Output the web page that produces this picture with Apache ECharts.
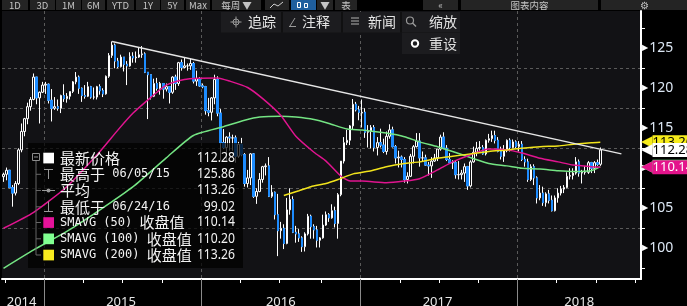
<!DOCTYPE html>
<html><head><meta charset="utf-8">
<script src="https://cdn.jsdelivr.net/npm/echarts@6/dist/echarts.min.js"></script>
<style>html,body{margin:0;padding:0;background:#000;overflow:hidden}#c{width:687px;height:306px;}</style>
</head><body><div id="c"></div>
<script>
// ---------- data (weekly candles, first week ending 2014-09-26) ----------
const startDate = '2014-09-26';
const weekCount = 212;
const open = [108.95,109.25,109.75,107.6,106.9,108.1,112.3,114.6,116.2,117.7,118.6,121.4,118.8,119.5,
120.4,120.5,118.5,117.5,117.7,117.5,119.1,118.7,119.0,119.6,120.8,121.4,120.0,119.1,119.0,120.2,118.9,118.9,120.2,119.7,119.3,121.5,124.1,125.4,123.4,122.7,123.9,123.0,122.8,124.0,123.8,123.9,124.2,124.3,122.0,121.7,119.0,120.6,120.0,120.6,119.9,120.2,119.5,121.4,120.6,123.2,122.6,122.8,122.8,123.1,120.9,121.2,
120.3,120.2,117.2,117.0,118.8,121.1,116.9,113.2,112.6,113.9,113.8,113.8,111.5,113.0,111.7,108.1,108.8,111.8,106.5,107.1,108.6,110.2,110.3,106.5,107.0,104.2,102.2,102.5,100.6,104.8,106.1,102.0,101.8,101.3,100.2,101.8,104.0,102.7,102.3,101.0,101.3,102.9,104.2,103.8,104.7,103.1,106.7,110.9,113.2,113.5,115.3,118.0,117.3,
116.9,117.0,114.5,114.6,115.1,112.6,113.2,112.9,112.1,114.0,114.8,112.7,111.3,111.4,111.1,108.6,109.0,111.5,112.7,113.4,111.3,111.3,110.4,110.3,110.9,111.3,112.4,113.9,112.5,111.1,110.7,110.7,109.2,109.2,109.4,110.2,107.8,110.8,112.0,112.5,112.6,111.8,113.5,113.7,114.1,113.5,112.1,111.5,112.2,113.5,112.6,113.3,
112.7,113.0,111.1,110.8,108.6,110.2,108.8,106.3,106.9,105.7,106.8,106.0,104.7,106.3,106.9,107.4,107.6,109.0,109.1,109.4,110.8,109.4,109.5,109.5,110.7,110.0,110.7,110.5];
const close = [109.25,109.75,107.6,106.9,108.1,112.3,114.6,116.2,117.7,118.6,121.4,118.8,119.5,120.4,
120.5,118.5,117.5,117.7,117.5,119.1,118.7,119.0,119.6,120.8,121.4,120.0,119.1,119.0,120.2,118.9,118.9,120.2,119.7,119.3,121.5,124.1,125.4,123.4,122.7,123.9,123.0,122.8,124.0,123.8,123.9,124.2,124.3,122.0,121.7,119.0,120.6,120.0,120.6,119.9,120.2,119.5,121.4,120.6,123.2,122.6,122.8,122.8,123.1,120.9,121.2,120.3,
120.2,117.2,117.0,118.8,121.1,116.9,113.2,112.6,113.9,113.8,113.8,111.5,113.0,111.7,108.1,108.8,111.8,106.5,107.1,108.6,110.2,110.3,106.5,107.0,104.2,102.2,102.5,100.6,104.8,106.1,102.0,101.8,101.3,100.2,101.8,104.0,102.7,102.3,101.0,101.3,102.9,104.2,103.8,104.7,103.1,106.7,110.9,113.2,113.5,115.3,118.0,117.3,117.0,
117.0,114.5,114.6,115.1,112.6,113.2,112.9,112.1,114.0,114.8,112.7,111.3,111.4,111.1,108.6,109.0,111.5,112.7,113.4,111.3,111.3,110.4,110.3,110.9,111.3,112.4,113.9,112.5,111.1,110.7,110.7,109.2,109.2,109.4,110.2,107.8,110.8,112.0,112.5,112.6,111.8,113.5,113.7,114.1,113.5,112.1,111.5,112.2,113.5,112.6,113.3,112.7,
113.0,111.1,110.8,108.6,110.2,108.8,106.3,106.9,105.7,106.8,106.0,104.7,106.3,106.9,107.4,107.6,109.0,109.1,109.4,110.8,109.4,109.5,109.5,110.7,110.0,110.7,110.5,112.28];
const high = [109.45,110.09,109.8,107.9,108.4,112.5,115.6,116.3,118.2,118.9,121.85,121.4,119.6,120.8,
120.8,120.6,119.9,118.9,118.6,119.2,120.5,119.4,119.6,120.9,122.03,121.6,120.1,120.4,120.8,120.3,120.1,120.3,120.5,120.0,121.6,124.4,125.86,125.6,123.8,124.2,123.9,123.4,124.5,124.5,124.6,125.1,125.28,124.5,122.0,121.7,121.2,121.3,120.8,120.6,120.6,120.2,121.5,121.7,123.3,123.6,123.8,123.1,123.7,123.3,122.2,121.4,
120.6,120.3,118.8,118.9,121.7,121.5,117.4,114.9,114.0,114.5,114.2,114.1,113.3,113.8,111.9,109.8,111.9,111.9,107.5,109.4,110.3,110.6,111.4,107.9,107.1,106.8,103.3,103.0,106.3,107.5,106.5,102.8,102.4,101.5,102.0,104.3,104.2,103.0,102.8,101.4,104.2,104.6,104.4,105.5,105.2,106.9,110.9,113.9,114.8,115.4,118.66,118.3,117.8,
118.6,117.5,115.4,115.4,115.4,113.9,114.95,113.7,114.6,115.5,115.2,112.9,112.2,111.6,111.4,109.5,111.8,112.9,114.4,114.4,112.1,111.7,110.8,111.4,111.8,112.4,114.2,114.5,112.9,111.9,111.0,110.9,110.9,109.8,110.6,110.3,111.0,112.7,113.3,113.4,112.9,113.6,114.3,114.7,114.7,113.9,112.7,112.9,113.6,113.75,113.6,113.5,
113.4,113.4,111.5,111.2,110.5,110.5,109.0,107.9,107.7,107.0,107.3,106.6,106.6,107.5,107.8,107.9,109.5,110.0,110.0,111.4,111.1,109.8,110.3,110.9,110.8,110.9,111.1,112.6];
const low = [108.3,108.5,107.5,105.2,106.6,107.9,112.0,114.0,115.5,117.2,118.5,118.0,115.6,119.4,
119.3,118.1,115.85,117.3,117.2,116.9,118.3,118.2,118.6,119.4,120.5,119.3,118.3,118.7,118.9,118.7,118.6,118.6,119.2,118.9,119.2,121.3,123.8,122.5,122.5,122.6,122.1,120.4,122.7,123.2,123.2,123.8,123.8,121.9,116.15,118.6,118.9,119.7,119.2,118.7,119.6,118.1,119.3,119.8,120.3,122.2,122.5,122.2,122.3,120.6,120.3,120.2,
120.0,116.7,116.5,115.98,118.0,116.5,110.98,112.4,111.0,112.2,112.2,110.7,111.3,111.5,107.7,107.6,107.9,106.3,105.55,107.0,108.2,109.1,106.4,106.3,103.6,99.02,101.2,99.9,100.5,104.2,101.9,100.7,100.8,99.55,99.6,101.6,101.2,101.2,100.1,100.1,101.2,102.8,103.3,103.7,102.6,101.2,106.5,110.6,112.9,112.9,114.9,117.1,116.0,
115.1,113.8,112.6,112.5,112.1,111.6,112.6,111.9,111.7,113.7,112.6,110.6,110.1,110.1,108.2,108.1,108.9,110.6,112.6,110.2,110.9,110.3,109.1,108.8,110.8,110.9,112.2,112.4,110.9,110.6,109.9,108.7,108.6,108.6,108.3,107.3,107.6,110.7,111.5,112.2,111.7,111.6,113.2,113.3,113.1,112.0,111.1,110.8,112.0,112.1,112.5,112.5,
112.1,110.9,110.2,108.3,108.4,107.9,105.6,106.0,105.3,105.2,105.6,104.6,104.6,105.7,106.6,106.9,107.5,108.6,108.6,109.2,108.95,108.1,109.2,109.3,109.4,109.4,110.3,110.3];

// moving averages: [week index, value]
const ma50 = [[0,102.5],[10,104.5],[21,107.7],[32,112.1],[38,114.8],[43,116.9],[49,118.9],[54,120.4],[60,121.1],[65,121.25],[71,121.3],[75,120.9],[81,120.1],[86,118.7],[92,116.6],[97,114.0],[103,112.0],[107,110.9],[112,109.0],[115,108.4],[119,108.4],[127,108.2],[133,108.4],[138,108.7],[144,109.8],[149,110.8],[155,111.7],[161,112.4],[167,112.3],[172,111.9],[178,111.25],[184,110.8],[189,110.4],[195,110.2],[198,110.14]];
const ma100 = [[0,97.5],[10,99.8],[21,102.1],[32,104.8],[43,107.7],[54,111.3],[63,114.1],[73,115.2],[80,116.0],[85,116.4],[92,116.5],[97,116.4],[103,116.1],[108,115.6],[114,114.9],[119,114.8],[127,114.4],[133,113.95],[138,113.3],[144,112.7],[149,112.1],[156,111.2],[161,110.6],[167,110.3],[172,110.0],[178,109.9],[184,109.7],[189,109.6],[195,109.7],[198,110.2]];
const ma200 = [[93,106.6],[98,107.2],[102,107.7],[107,108.1],[111,108.6],[116,109.3],[122,109.7],[127,110.2],[133,110.6],[138,110.8],[144,111.25],[149,111.5],[156,111.85],[161,112.1],[167,112.3],[172,112.5],[178,112.7],[184,112.8],[189,113.0],[195,113.2],[198,113.26]];
const trend = [[36,125.86],[205,111.8]];

const yMin = 96.16, yMax = 129.66;
const yTickLabels = [100,105,110,115,120,125];
const yMinorTicks = [97.5,102.5,107.5,112.5,117.5,122.5,127.5];
const yearLabelIdx = [6,39,92,144,191];

const legendLabels = ['最新价格','最高于 06/05/15','平均','最低于 06/24/16','SMAVG (50) 收盘值','SMAVG (100) 收盘值','SMAVG (200) 收盘值'];
const legendValues = ['112.28','125.86','113.26','99.02','110.14','110.20','113.26'];
const tagValues = [110.20, 110.14, 113.26, 112.28];
const tagColors = ['#80ff90','#e4148c','#f7ec1b','#ffffff'];
const tagText = ['#000','#fff','#000','#000'];

// ---------- categories ----------
const dates = [];
const d0 = Date.parse(startDate + 'T00:00:00Z');
for (let i = 0; i <= weekCount; i++) dates.push(new Date(d0 + i * 7 * 864e5).toISOString().slice(0, 10));
const bandDates = dates.slice(0, weekCount);
const mon = i => dates[i].slice(5, 7);
const isQuarterStart = i => i > 0 && mon(i) !== mon(i - 1) && ['01','04','07','10'].includes(mon(i));
const isYearStart = i => i > 0 && dates[i].slice(0, 4) !== dates[i - 1].slice(0, 4);

const candleData = open.map((o, i) => [o, close[i], low[i], high[i]]);
const downData = open.map((o, i) => close[i] < o ? [o, close[i], close[i], o] : ['-', '-', '-', '-']);

const FONT = "'Noto Sans CJK SC','Noto Sans',sans-serif";
const MONO = "'DejaVu Sans Mono',monospace";
const NUM = "'Noto Sans','DejaVu Sans',sans-serif";
const UP_FILL = '#121215', BLUE = '#1d8cff';

// ---------- graphic chrome ----------
const g = [];
g.push({type:'rect', shape:{x:28,y:143,width:215,height:125}, style:{fill:'rgba(0,0,0,0.72)'}, z:2, silent:true});
const rowY = [158, 174.3, 190.5, 206.8, 222.5, 238.8, 255];
const gray = '#8c8c8c';
g.push({type:'rect', shape:{x:32.5,y:153.5,width:7,height:7}, style:{fill:'none', stroke:gray, lineWidth:1}, z:5});
g.push({type:'line', shape:{x1:34,y1:157,x2:38,y2:157}, style:{stroke:gray, lineWidth:1}, z:5});
g.push({type:'line', shape:{x1:36,y1:161,x2:36,y2:255}, style:{stroke:'#666', lineWidth:1}, z:5});
for (let r = 1; r < 7; r++) g.push({type:'line', shape:{x1:36,y1:rowY[r],x2:41,y2:rowY[r]}, style:{stroke:'#666', lineWidth:1}, z:5});
const sq = ['#ffffff', null, null, null, '#e5139a', '#80ff90', '#f7ea1e'];
sq.forEach((c, r) => { if (c) g.push({type:'rect', shape:{x:43.3,y:rowY[r]-5.3,width:10.7,height:10.7}, style:{fill:c}, z:5}); });
g.push({type:'line', shape:{x1:44,y1:169.5,x2:53,y2:169.5}, style:{stroke:'#999', lineWidth:1}, z:5});
g.push({type:'line', shape:{x1:48.5,y1:169.5,x2:48.5,y2:179}, style:{stroke:'#999', lineWidth:1}, z:5});
g.push({type:'line', shape:{x1:42,y1:190.5,x2:55,y2:190.5}, style:{stroke:'#999', lineWidth:1}, z:5});
g.push({type:'circle', shape:{cx:48.5,cy:190.5,r:2}, style:{fill:'#999'}, z:5});
g.push({type:'line', shape:{x1:48.5,y1:201.5,x2:48.5,y2:211.5}, style:{stroke:'#999', lineWidth:1}, z:5});
g.push({type:'line', shape:{x1:44,y1:211.5,x2:53,y2:211.5}, style:{stroke:'#999', lineWidth:1}, z:5});
const toRich = s => s.split(/([\u3000-\u9fff]+)/).filter(p => p.length).map(p => /[\u3000-\u9fff]/.test(p) ? '{c|' + p + '}' : '{l|' + p + '}').join('');
legendLabels.forEach((t, r) => {
  g.push({type:'text', x:60, y:rowY[r], style:{text:toRich(t), textAlign:'left', textVerticalAlign:'middle',
    rich:{c:{fontSize:15, fontFamily:FONT, fill:'#f2f2f2', verticalAlign:'middle'}, l:{fontSize:12, fontFamily:MONO, fill:'#f2f2f2', verticalAlign:'middle'}}}, z:6});
  g.push({type:'text', x:235, y:rowY[r], scaleX:0.87, style:{text:legendValues[r], fill:'#f2f2f2', font:'14px ' + NUM, textAlign:'right', textVerticalAlign:'middle'}, z:6});
});

// toolbar
const buttons = [
  {x:2,w:26,t:'1D'},{x:30,w:25,t:'3D'},{x:56,w:25,t:'1M'},{x:82,w:23,t:'6M'},{x:107,w:27,t:'YTD'},
  {x:136,w:24,t:'1Y'},{x:161,w:23,t:'5Y'},{x:186,w:24,t:'Max'},{x:212,w:49,t:'每周 ▼'},{x:265,w:24,t:''},
  {x:291,w:25,t:'',bg:'#1f5f9e'},{x:317,w:16,t:'▼'},{x:335,w:22,t:'表'},{x:423,w:35,t:'«'},
  {x:461,w:137,t:'图表内容'},{x:601,w:86,t:'⚙'}
];
buttons.forEach(b => {
  g.push({type:'rect', shape:{x:b.x,y:0,width:b.w,height:10}, style:{fill:b.bg || '#242424'}, z:10});
  if (b.t) g.push({type:'text', x:b.x + b.w / 2, y:5.5, style:{text:b.t, fill:'#c4c4c4', font:'9.5px ' + FONT, textAlign:'center', textVerticalAlign:'middle'}, z:11});
});
g.push({type:'polyline', shape:{points:[[270,8],[274,4],[278,6],[283,2]]}, style:{stroke:'#cfcfcf', lineWidth:1, fill:'none'}, z:11});
g.push({type:'rect', shape:{x:297.5,y:2.5,width:3,height:5}, style:{stroke:'#fff', fill:'none', lineWidth:1}, z:11});
g.push({type:'rect', shape:{x:304.5,y:3.5,width:3,height:4}, style:{stroke:'#fff', fill:'none', lineWidth:1}, z:11});
// popup menu
g.push({type:'rect', shape:{x:221,y:12,width:239,height:20.5}, style:{fill:'#1c1c1f'}, z:10});
[282, 342, 401].forEach(x => g.push({type:'line', shape:{x1:x,y1:12,x2:x,y2:32.5}, style:{stroke:'#0c0c0e', lineWidth:1.5}, z:11}));
g.push({type:'circle', shape:{cx:236,cy:22,r:3}, style:{stroke:'#9a9a9a', fill:'none', lineWidth:1}, z:11});
g.push({type:'line', shape:{x1:230.5,y1:22,x2:241.5,y2:22}, style:{stroke:'#9a9a9a', lineWidth:1}, z:11});
g.push({type:'line', shape:{x1:236,y1:16.5,x2:236,y2:27.5}, style:{stroke:'#9a9a9a', lineWidth:1}, z:11});
g.push({type:'line', shape:{x1:290,y1:26,x2:295,y2:18}, style:{stroke:'#9a9a9a', lineWidth:1}, z:11});
g.push({type:'line', shape:{x1:289,y1:26.5,x2:296,y2:26.5}, style:{stroke:'#9a9a9a', lineWidth:1}, z:11});
[18, 21, 24].forEach(y => g.push({type:'line', shape:{x1:351,y1:y,x2:359,y2:y}, style:{stroke:'#9a9a9a', lineWidth:1.2}, z:11}));
g.push({type:'circle', shape:{cx:410,cy:20.5,r:3.5}, style:{stroke:'#9a9a9a', fill:'none', lineWidth:1.2}, z:11});
g.push({type:'line', shape:{x1:412.5,y1:23,x2:416,y2:26.5}, style:{stroke:'#9a9a9a', lineWidth:1.4}, z:11});
[['追踪',248],['注释',302],['新闻',368],['缩放',429]].forEach(([t, x]) =>
  g.push({type:'text', x:x, y:22, style:{text:t, fill:'#e4e4e4', font:'14px ' + FONT, textAlign:'left', textVerticalAlign:'middle'}, z:11}));
g.push({type:'rect', shape:{x:402,y:33,width:58,height:21}, style:{fill:'#1c1c1f'}, z:10});
g.push({type:'circle', shape:{cx:415,cy:43.5,r:3.2}, style:{stroke:'#fff', fill:'none', lineWidth:2}, z:11});
g.push({type:'text', x:429, y:43.5, style:{text:'重设', fill:'#e0e0e0', font:'14px ' + FONT, textAlign:'left', textVerticalAlign:'middle'}, z:11});

// ---------- chart ----------
const tagAxes = tagValues.map((v, k) => ({
  type:'value', position:'right', min:yMin, max:yMax,
  axisLine:{show:false}, axisTick:{show:false}, splitLine:{show:false},
  axisLabel:{show:true, customValues:[v], margin:0,
    formatter:() => '{a|◀}{b|' + v.toFixed(2) + '}',
    rich:{a:{color:tagColors[k], fontSize:15, fontFamily:'DejaVu Sans', verticalAlign:'middle'},
          b:{backgroundColor:tagColors[k], color:tagText[k], fontSize:13, fontFamily:NUM, verticalAlign:'middle', padding:[1,10,0,0], lineHeight:15}}}
}));

const option = {
  backgroundColor: '#000',
  animation: false,
  grid: {left:2, right:46, top:11, bottom:27, show:true, backgroundColor:UP_FILL, borderWidth:0, containLabel:false, outerBoundsMode:'none'},
  xAxis: [
    {type:'category', data:bandDates, boundaryGap:true, position:'bottom',
     axisLine:{show:true, onZero:false, lineStyle:{color:'#ffffff', width:2}},
     axisTick:{show:false},
     axisLabel:{show:true, interval:(i) => yearLabelIdx.includes(i), formatter:(v) => String(v).slice(0,4), color:'#e6e6e6', fontSize:13, fontFamily:NUM, margin:17},
     splitLine:{show:false}},
    {type:'category', data:dates, boundaryGap:false, position:'bottom',
     axisLine:{show:false, onZero:false},
     axisTick:{show:true, interval:(i) => isQuarterStart(i), length:4, lineStyle:{color:'#ffffff', width:1}},
     axisLabel:{show:false},
     splitLine:{show:true, interval:(i) => isYearStart(i), lineStyle:{color:'#5a5a5a', type:[3,3], width:1}}},
    {type:'category', data:dates, boundaryGap:false, position:'bottom',
     axisLine:{show:false, onZero:false},
     axisTick:{show:true, interval:(i) => isYearStart(i), length:27, lineStyle:{color:'#8a8a8a', width:1}},
     axisLabel:{show:false}, splitLine:{show:false}}
  ],
  yAxis: [
    {type:'value', position:'right', min:yMin, max:yMax, splitNumber:7,
     axisLine:{show:true, lineStyle:{color:'#ffffff', width:2}},
     axisTick:{show:true, customValues:yMinorTicks, length:4, lineStyle:{color:'#ffffff', width:1}},
     axisLabel:{show:true, customValues:yTickLabels, margin:1,
       formatter:(v) => '{t|▶}{n|' + v + '}',
       rich:{t:{fontSize:8, color:'#ffffff', fontFamily:'DejaVu Sans', verticalAlign:'middle', padding:[0,1,0,0]},
             n:{fontSize:14, color:'#dbe6f3', fontFamily:NUM, verticalAlign:'middle'}}},
     splitLine:{show:true, showMinLine:false, showMaxLine:false, lineStyle:{color:'#5a5a5a', type:[3,3], width:1}}}
  ].concat(tagAxes),
  series: [
    {type:'candlestick', name:'candles', data:candleData, xAxisIndex:0, yAxisIndex:0, barWidth:2, z:1,
     itemStyle:{color:UP_FILL, color0:BLUE, borderColor:'#ffffff', borderColor0:'#ffffff', borderWidth:1}},
    {type:'candlestick', name:'downBodies', data:downData, xAxisIndex:0, yAxisIndex:0, barWidth:2, z:1,
     itemStyle:{color:BLUE, color0:BLUE, borderColor:BLUE, borderColor0:BLUE, borderWidth:1}},
    {type:'line', name:'SMAVG (100)', data:ma100, symbol:'none', smooth:0.2, z:3, silent:true, lineStyle:{color:'#74e483', width:1.5}},
    {type:'line', name:'SMAVG (50)', data:ma50, symbol:'none', smooth:0.2, z:3, silent:true, lineStyle:{color:'#e0148f', width:1.5}},
    {type:'line', name:'SMAVG (200)', data:ma200, symbol:'none', smooth:0.2, z:3, silent:true, lineStyle:{color:'#f2e41c', width:1.5}},
    {type:'line', name:'trend', data:trend, symbol:'none', z:3, silent:true, lineStyle:{color:'#e6e6e6', width:1.5}}
  ],
  graphic: {elements: g}
};
const chart = echarts.init(document.getElementById('c'), null, {renderer:'canvas'});
chart.setOption(option);
</script>
</body></html>
